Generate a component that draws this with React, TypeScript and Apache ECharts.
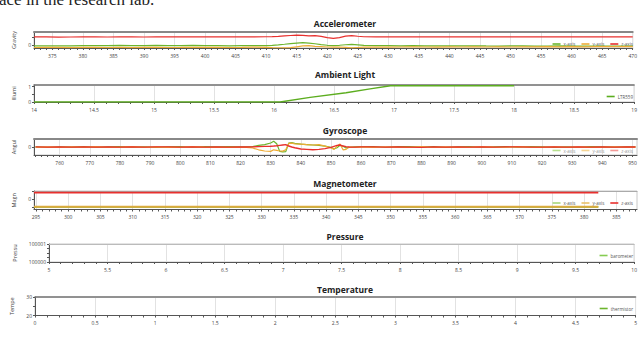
import React, { useEffect, useRef } from 'react';
import * as echarts from 'echarts';

// ---------------- data ----------------
const accelT = [372,374,376,378,380,382,384,386,388,390,392,394,396,398,400,402,404,406,408,410,
  411,412,413,414,415,416,417,418,419,420,421,422,423,424,425,426,
  428,430,432,434,436,438,440,442,444,446,448,450,452,454,456,458,460,462,464,466,468,470];
const accelZ = [0.99,0.98,0.96,0.97,0.99,0.98,0.97,0.99,0.98,0.97,0.99,1.0,0.98,0.99,0.98,0.99,1.0,0.99,0.98,1.0,
  1.02,1.05,1.1,1.15,1.2,1.16,1.1,1.14,1.05,0.9,0.82,0.9,1.08,1.14,1.06,1.0,
  0.99,1.0,0.99,0.98,0.99,1.0,0.99,0.99,1.0,0.99,0.98,0.99,1.0,0.99,0.99,1.0,0.99,0.98,0.99,1.0,0.99,0.99];
const accelX = [-0.08,-0.07,-0.06,-0.08,-0.05,-0.03,-0.04,-0.02,-0.03,-0.05,-0.02,-0.03,-0.04,-0.02,-0.05,-0.03,-0.06,-0.04,-0.05,-0.03,
  0.0,0.05,0.12,0.2,0.26,0.3,0.26,0.18,0.08,0.0,-0.04,0.0,0.06,0.1,0.04,-0.02,
  -0.04,-0.05,-0.06,-0.05,-0.07,-0.06,-0.08,-0.07,-0.06,-0.08,-0.09,-0.08,-0.07,-0.09,-0.1,-0.08,-0.09,-0.1,-0.09,-0.1,-0.1,-0.1];
const accelY = [-0.26,-0.24,-0.25,-0.27,-0.25,-0.24,-0.26,-0.25,-0.27,-0.25,-0.24,-0.26,-0.25,-0.23,-0.25,-0.24,-0.26,-0.25,-0.22,-0.24,
  -0.27,-0.29,-0.3,-0.28,-0.18,-0.08,-0.05,-0.12,-0.15,-0.2,-0.22,-0.2,-0.25,-0.3,-0.26,-0.22,
  -0.2,-0.21,-0.2,-0.19,-0.2,-0.21,-0.19,-0.2,-0.18,-0.2,-0.19,-0.2,-0.18,-0.19,-0.17,-0.18,-0.17,-0.18,-0.17,-0.16,-0.17,-0.17];
const accelLabels = [375,380,385,390,395,400,405,410,415,420,425,430,435,440,445,450,455,460,465,470];

const ambT = [14, 15, 16, 16.05, 16.3, 16.6, 16.8, 16.97, 17.5, 18];
const ambV = [0, 0, 0, 0, 0.3, 0.6, 0.85, 1.05, 1.05, 1.05];

const gyroT = [752,756,760,764,768,772,776,780,784,788,792,796,800,804,808,812,816,820,
  822,824,826,828,830,
  831,832,833,834,835,836,837,838,
  840,842,844,846,848,850,
  851,852,853,854,855,856,
  858,860,
  864,868,872,876,880,884,888,892,896,900,904,908,912,916,920,924,928,932,936,940,944,948,
  951];
const gyroX = [0.02,-0.03,0.03,-0.02,0.04,-0.03,0.02,0.05,-0.02,0.03,-0.04,0.02,0.05,-0.03,0.04,0.02,0.06,0.03,
  0.02,0.05,0.2,0.3,0.5,
  0.72,0.4,-0.55,-0.6,-0.58,0.5,0.55,0.45,
  0.35,0.3,0.25,0.2,0.12,-0.05,
  -0.25,-0.1,0.2,0.1,-0.12,-0.05,
  0.02,0.04,
  0.05,-0.03,0.04,0.06,-0.02,0.04,-0.05,0.03,0.05,-0.03,0.02,0.04,-0.02,0.05,0.03,-0.04,0.02,-0.03,0.04,0.02,-0.02,0.03,
  0.02];
const gyroY = [-0.03,0.02,-0.04,0.03,-0.02,0.04,-0.03,-0.02,0.04,-0.03,0.02,-0.04,-0.03,0.04,-0.02,-0.04,-0.03,-0.05,
  -0.04,-0.12,-0.35,-0.5,-0.55,
  -0.35,-0.42,-0.5,-0.52,-0.35,0.45,0.48,0.4,
  0.36,0.3,0.25,0.3,0.1,-0.1,
  -0.3,0.1,0.38,-0.35,-0.3,0.0,
  -0.03,0.02,
  -0.04,0.03,-0.02,-0.05,0.04,-0.03,0.02,-0.04,-0.03,0.04,-0.02,-0.03,0.05,-0.02,-0.04,0.03,-0.03,0.02,-0.04,-0.02,0.03,-0.02,
  -0.02];
const gyroZ = [0.01,-0.02,0.02,-0.01,0.02,-0.02,0.01,-0.01,0.02,-0.02,0.01,0.02,-0.01,0.01,-0.02,0.02,-0.01,0.01,
  0.0,0.02,0.05,0.08,0.1,
  0.12,0.15,0.2,0.25,0.3,0.12,0.0,-0.1,
  -0.25,-0.3,-0.35,-0.3,-0.2,-0.05,
  0.08,0.2,0.25,0.12,0.05,0.0,
  -0.02,0.01,
  0.02,-0.01,0.01,-0.02,-0.05,0.01,-0.02,0.02,-0.01,0.01,-0.02,0.01,0.02,-0.01,-0.02,0.01,-0.01,0.02,-0.01,0.01,-0.02,0.01,
  0.0];
const gyroLabels = [760,770,780,790,800,810,820,830,840,850,860,870,880,890,900,910,920,930,940,950];

const magT = [294.7, 320, 345, 370, 382.2];
const magX = [-0.97, -0.97, -0.97, -0.97, -0.97];
const magY = [-0.95, -0.95, -0.95, -0.95, -0.95];
const magZ = [0.85, 0.85, 0.85, 0.85, 0.85];
const magLabels = [295,300,305,310,315,320,325,330,335,340,345,350,355,360,365,370,375,380,385];

const presT: number[] = [];
const presV: number[] = [];
const tempT: number[] = [];
const tempV: number[] = [];

const titles = ['Accelerometer', 'Ambient Light', 'Gyroscope', 'Magnetometer', 'Pressure', 'Temperature'];
const yNames = ['Gravity', 'Illumi', 'Angul', 'Magn', 'Pressu', 'Tempe'];

// ---------------- helpers ----------------
const pairs = (t: number[], v: number[]) => t.map((x, i) => [x, v[i]]);
const range = (a: number, b: number, s: number) => {
  const r: number[] = [];
  for (let x = a; x <= b + 1e-9; x += s) r.push(Math.round(x * 100) / 100);
  return r;
};

const GREEN = '#6cb52d';
const ORANGE = '#eeac36';
const RED = '#e8302e';
const FONT = 'Open Sans';
const LBL = { fontSize: 5, color: '#444', fontFamily: FONT };

const grids = [
  { left: 34, top: 32, width: 603, height: 16 },
  { left: 34, top: 85, width: 603, height: 17 },
  { left: 34, top: 139, width: 603, height: 16 },
  { left: 34, top: 191, width: 603, height: 18.5 },
  { left: 49, top: 244, width: 588, height: 18 },
  { left: 35, top: 297, width: 602, height: 18.5 },
];
const titleCenters = [24, 75, 131, 184, 237, 290];
const legendTops = [41.5, 94, 148, 200.5, 253, 306];

export default function App() {
  const ref = useRef<HTMLDivElement>(null);
  useEffect(() => {
    const chart = echarts.init(ref.current!, null, { renderer: 'svg' });

    const xMain = (gi: number, min: number, max: number, ticks: any, labels: any, extra: any = {}) => ({
      type: 'value', gridIndex: gi, min, max, position: 'bottom',
      axisLine: { onZero: false, lineStyle: { color: '#555', width: 1 } },
      axisTick: { length: 2, lineStyle: { color: '#555' }, ...(ticks ? { customValues: ticks } : {}) },
      axisLabel: { ...LBL, margin: 5, formatter: (v: number) => String(v), ...(labels ? { customValues: labels } : {}) },
      splitLine: { show: false },
      ...extra,
    });
    const xTop = (gi: number, min: number, max: number, labels: any, extra: any = {}, topLine: any = { color: '#888', width: 2 }) => ({
      type: 'value', gridIndex: gi, min, max, position: 'top',
      axisLine: { onZero: false, lineStyle: topLine },
      axisTick: { show: false, ...(labels ? { customValues: labels } : {}) },
      axisLabel: { show: false },
      splitLine: { show: true, lineStyle: { color: '#e2e2e2', width: 1 } },
      ...extra,
    });

    const xAxis: any[] = [
      xMain(0, 372, 470, range(372, 470, 1), accelLabels),
      xTop(0, 372, 470, accelLabels),
      xMain(1, 14, 19, null, null, { interval: 0.5, minorTick: { show: true, splitNumber: 5, length: 2, lineStyle: { color: '#555' } } }),
      xTop(1, 14, 19, null, { interval: 0.5 }, { color: '#777', width: 1.5 }),
      xMain(2, 751.5, 951.5, range(752, 950, 2), gyroLabels),
      xTop(2, 751.5, 951.5, gyroLabels),
      xMain(3, 294.7, 388.2, range(295, 388, 1), magLabels),
      xTop(3, 294.7, 388.2, magLabels, {}, { color: '#aaa', width: 1 }),
      xMain(4, 5, 10, null, null, { interval: 0.5, minorTick: { show: true, splitNumber: 5, length: 2, lineStyle: { color: '#555' } } }),
      xTop(4, 5, 10, null, { interval: 0.5 }, { color: '#bbb', width: 1 }),
      xMain(5, 0, 5, null, null, { interval: 0.5, minorTick: { show: true, splitNumber: 5, length: 2, lineStyle: { color: '#555' } } }),
      xTop(5, 0, 5, null, { interval: 0.5 }, { color: '#777', width: 1.5 }),
    ];

    const yBase = (gi: number, min: number, max: number, ticks: number[], labels: number[], extra: any = {}) => ({
      type: 'value', gridIndex: gi, min, max,
      axisLine: { show: true, onZero: false, lineStyle: { color: '#555', width: 1 } },
      axisTick: { show: true, length: 2, lineStyle: { color: '#555' }, customValues: ticks },
      axisLabel: { ...LBL, margin: 3, customValues: labels, formatter: (v: number) => String(v) },
      splitLine: { show: false },
      name: yNames[gi], nameLocation: 'middle', nameGap: 10, nameRotate: 90,
      nameTextStyle: { fontSize: 5.5, color: '#444', fontFamily: FONT },
      ...extra,
    });
    const yAxis: any[] = [
      yBase(0, -0.32, 1.56, [0, 1], [0]),
      yBase(1, 0, 1.1, [0, 0.5, 1], [0, 1]),
      yBase(2, -1, 1, [0], [0]),
      yBase(3, -1.3, 1.05, [-1, 0, 1], [0]),
      yBase(4, 100000, 100001, [100000, 100000.25, 100000.5, 100000.75, 100001], [100000, 100001], { nameGap: 23 }),
      yBase(5, 20, 30, [20, 25, 30], [20, 30], { nameGap: 9 }),
    ];

    const line = (name: string, gi: number, data: any[], color: string, width = 1.2, extra: any = {}) => ({
      type: 'line', name, xAxisIndex: gi * 2, yAxisIndex: gi, data, showSymbol: false, symbol: 'none',
      lineStyle: { color, width }, itemStyle: { color }, z: 5, ...extra,
    });

    const series: any[] = [
      line('x-axis', 0, pairs(accelT, accelX), GREEN),
      line('y-axis', 0, pairs(accelT, accelY), ORANGE),
      line('z-axis', 0, pairs(accelT, accelZ), RED),
      line('LTR559', 1, pairs(ambT, ambV), '#5cad1f', 1.4),
      line('x-axis', 2, pairs(gyroT, gyroX), GREEN),
      line('y-axis', 2, pairs(gyroT, gyroY), ORANGE),
      line('z-axis', 2, pairs(gyroT, gyroZ), RED, 1.4),
      line('x-axis', 3, pairs(magT, magX), GREEN, 1.8),
      line('y-axis', 3, pairs(magT, magY), '#dcab3e', 1.8),
      line('z-axis', 3, pairs(magT, magZ), RED, 1.8),
      line('barometer', 4, pairs(presT, presV), '#86cc52'),
      line('thermistor', 5, pairs(tempT, tempV), GREEN),
    ];

    const legendBase = (gi: number, data: any[]) => ({
      top: legendTops[gi], right: 7, orient: 'horizontal', icon: 'rect', itemWidth: 8, itemHeight: 1.6,
      itemGap: 6, selectedMode: false, padding: 0,
      textStyle: { fontSize: 4.5, color: '#555', fontFamily: FONT, padding: [0, 0, 0, -2] },
      data,
    });
    const xyz = ['x-axis', 'y-axis', 'z-axis'];
    const legend: any[] = [
      legendBase(0, xyz),
      legendBase(1, ['LTR559']),
      legendBase(2, [
        { name: 'x-axis', itemStyle: { color: '#b8e08f' }, textStyle: { color: '#999' } },
        { name: 'y-axis', itemStyle: { color: '#f6d595' }, textStyle: { color: '#999' } },
        { name: 'z-axis', itemStyle: { color: '#f39a98' }, textStyle: { color: '#999' } },
      ]),
      legendBase(3, [
        { name: 'x-axis', itemStyle: { color: '#a8d67a' } },
        { name: 'y-axis', itemStyle: { color: '#e9c16a' } },
        { name: 'z-axis', itemStyle: { color: RED } },
      ]),
      legendBase(4, ['barometer']),
      legendBase(5, ['thermistor']),
    ];

    const title = titles.map((t, i) => ({
      text: t, left: 345, top: titleCenters[i] - 5.5, textAlign: 'center', padding: 0,
      textStyle: { fontSize: 8.5, fontWeight: 'bold', color: '#222', fontFamily: FONT },
    }));

    chart.setOption({
      animation: false,
      backgroundColor: '#fff',
      title,
      grid: grids.map(g => ({ ...g, show: true, borderColor: '#c8c8c8', borderWidth: 1, containLabel: false })),
      xAxis,
      yAxis,
      legend,
      series,
      graphic: [
        {
          type: 'text', left: -1, top: -9,
          style: { text: 'ace in the research lab.', font: '17px "Liberation Serif"', fill: '#222' },
        },
      ],
    });
    return () => chart.dispose();
  }, []);
  return <div ref={ref} style={{ position: 'fixed', left: 0, top: 0, width: 640, height: 345, background: '#fff' }} />;
}
